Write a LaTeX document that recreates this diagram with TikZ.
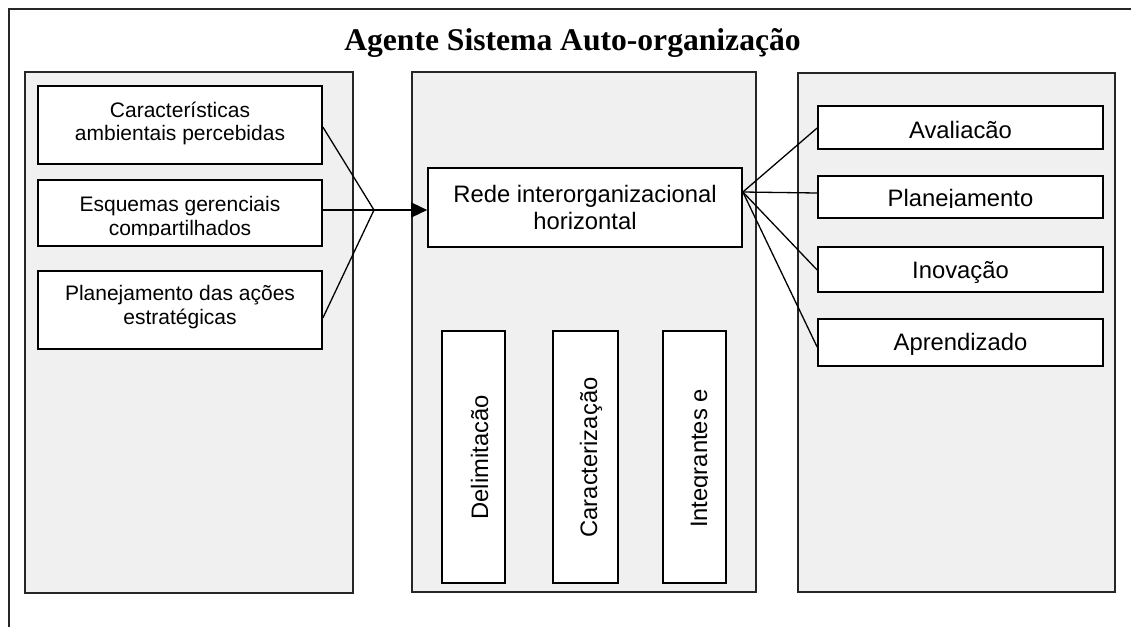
\documentclass[tikz,border=0pt]{standalone}
\usepackage{fontspec}
\setmainfont{Liberation Serif}
\setsansfont{Liberation Sans}
\usetikzlibrary{arrows.meta}
\definecolor{panelfill}{HTML}{F0F0F0}
\begin{document}
\begin{tikzpicture}[x=1pt,y=-1pt,
  panel/.style={draw=black!85, line width=1.8pt, fill=panelfill, inner sep=0pt},
  card/.style={draw=black, line width=1.7pt, fill=white, inner sep=0pt},
  smalltext/.style={font=\sffamily\fontsize{21}{23.4}\selectfont, align=center, inner sep=0pt, anchor=base},
  bigtext/.style={font=\sffamily\fontsize{23.8}{26.4}\selectfont, align=center, inner sep=0pt, anchor=base},
  uptext/.style={bigtext, rotate=90},
  link/.style={line width=1.3pt},
]
\useasboundingbox (0,0) rectangle (1131,627);
\fill[white] (0,0) rectangle (1131,627);

% outer frame (only its left and top sides fall on the page)
\draw[line width=1.8pt, black!85] (9,627) -- (9,9) -- (1131,9);

% title
\node[font=\rmfamily\bfseries\fontsize{31.6}{34}\selectfont, anchor=base, inner sep=0pt]
  (title) at (572.5,50) {Agente Sistema Auto-organização};

% the three panels
\node[panel, minimum width=328pt, minimum height=521pt] (lp) at (189,332.5) {};
\node[panel, minimum width=344pt, minimum height=520pt] (mp) at (584,332) {};
\node[panel, minimum width=317pt, minimum height=519pt] (rp) at (956.5,332.5) {};

% left column (multi-line labels are placed by their last baseline)
\node[card, minimum width=284pt, minimum height=78pt] (b1) at (180,125) {};
\node[card, minimum width=284pt, minimum height=66pt] (b2) at (180,213) {};
\node[card, minimum width=284pt, minimum height=78pt] (b3) at (180,310) {};
\node[smalltext] (b1t) at (180,140.7) {Características\\ambientais percebidas};
\begin{scope}
  \clip (38,180) rectangle (322,235.5);
  \node[smalltext] (b2t) at (180,235.2) {Esquemas gerenciais\\compartilhados};
\end{scope}
\node[smalltext] (b3t) at (180,324.2) {Planejamento das ações\\estratégicas};

% middle column
\node[card, minimum width=314pt, minimum height=79pt] (rede) at (585,207.5) {};
\node[bigtext] (redet) at (585,229.1) {Rede interorganizacional\\horizontal};

\node[card, minimum width=63pt, minimum height=252pt] (v1) at (473.5,457) {};
\node[card, minimum width=65pt, minimum height=252pt] (v2) at (585.5,457) {};
\node[card, minimum width=63pt, minimum height=252pt] (v3) at (694.5,457) {};
\node[uptext] (v1t) at (488,457.5) {Delimitacão};
\node[uptext] (v2t) at (597,457.5) {Caracterização};
\begin{scope}
  \clip (663,331) rectangle (707.5,583);
  \node[uptext] (v3t) at (707,458.5) {Integrantes e};
\end{scope}

% right column
\node[card, minimum width=285pt, minimum height=43pt] (r1) at (960.5,127.5) {};
\node[card, minimum width=285pt, minimum height=42pt] (r2) at (960.5,197) {};
\node[card, minimum width=285pt, minimum height=45pt] (r3) at (960.5,269.5) {};
\node[card, minimum width=285pt, minimum height=47pt] (r4) at (960.5,342.5) {};
\node[bigtext] (r1t) at (960.5,138.3) {Avaliacão};
\begin{scope}
  \clip (818,176) rectangle (1103,207.5);
  \node[bigtext] (r2t) at (960.5,206.8) {Planejamento};
\end{scope}
\node[bigtext] (r3t) at (960.5,278) {Inovação};
\node[bigtext] (r4t) at (960.5,350) {Aprendizado};

% inputs converge and feed the network
\coordinate (join) at (374,210);
\draw[link] ([yshift=-2pt]b1.east) -- (join);
\draw[link] (b2.east |- join) -- (join);
\draw[link] ([yshift=-8pt]b3.east) -- (join);
\draw[line width=1.6pt, -{Triangle[length=16pt,width=15pt]}] (join) -- (rede.west |- join);

% network fans out to the outcomes
\coordinate (fan) at ([yshift=15.5pt]rede.east);
\draw[link] (fan) -- ([yshift=-0.5pt]r1.west);
\draw[link] (fan) -- ([yshift=4pt]r2.west);
\draw[link] (fan) -- ([yshift=-0.5pt]r3.west);
\draw[link] (fan) -- ([yshift=-4.5pt]r4.west);
\end{tikzpicture}
\end{document}
